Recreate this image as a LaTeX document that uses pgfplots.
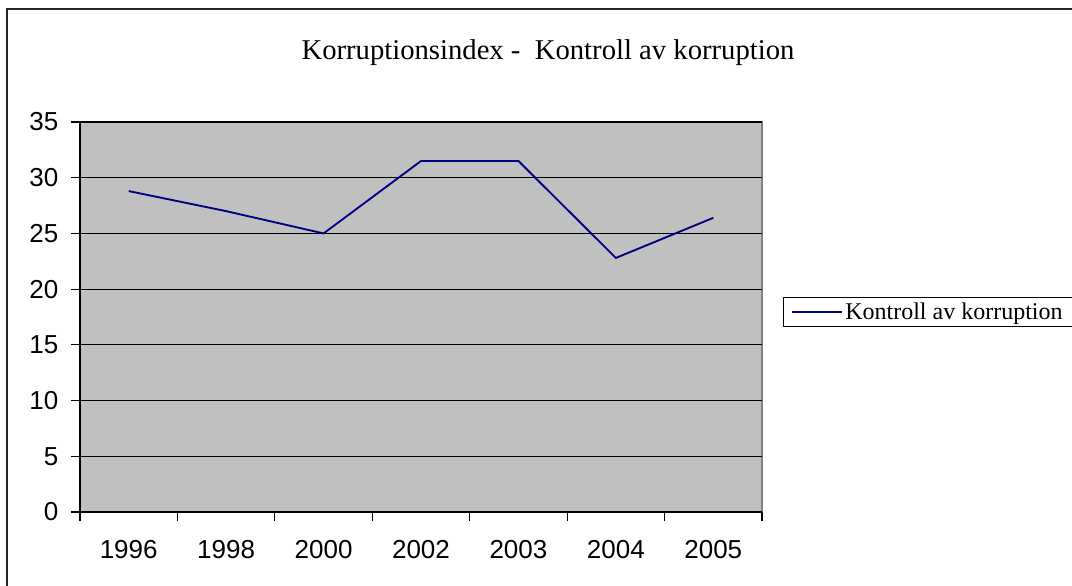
\documentclass[border=0pt]{standalone}
\usepackage{fontspec}
\setmainfont{Liberation Serif}
\newfontfamily\arial{Liberation Sans}
\usepackage{pgfplots}
\pgfplotsset{compat=1.18}
\definecolor{plotbg}{RGB}{192,192,192}
\definecolor{navyline}{RGB}{0,0,128}

\begin{document}
\begin{tikzpicture}
\useasboundingbox (0,0) rectangle (804pt,439.5pt);
\draw[line width=1.5pt, black!85] (5.25pt,0pt) -- (5.25pt,432.75pt) -- (804pt,432.75pt);
\node[font=\fontsize{21.5}{25}\selectfont] at (411pt,400pt) {Korruptionsindex -\ \ Kontroll av korruption};
\begin{axis}[
  at={(60pt,55.5pt)}, anchor=south west,
  scale only axis,
  width=511.5pt, height=292.5pt,
  xmin=-0.5, xmax=6.5, ymin=0, ymax=35,
  ytick={0,5,...,35},
  xtick={-0.5,0.5,...,6.5}, xticklabels={},
  extra x ticks={0,1,2,3,4,5,6},
  extra x tick labels={1996,1998,2000,2002,2003,2004,2005},
  extra x tick style={major tick length=0pt},
  axis lines=left, axis line style={-, black, line width=0.8pt},
  axis background/.style={fill=plotbg, draw=gray, line width=0.8pt},
  ymajorgrids, grid style={black, line width=0.8pt},
  tick align=outside, major tick length=6.5pt,
  tick style={black, line width=0.8pt},
  tick label style={font=\arial\fontsize{19.5}{23}\selectfont},
  /pgf/number format/assume math mode=true,
  yticklabel style={xshift=-6.25pt},
  xticklabel style={yshift=-18pt},
  legend style={at={(1.0308,0.5513)}, anchor=north west, draw=black, line width=0.6pt,
    font=\fontsize{18}{20}\selectfont, inner xsep=5.5pt, inner ysep=2pt},
  legend image code/.code={\draw[navyline, line width=1.4pt] (0pt,0pt) -- (37.5pt,0pt);},
]
\addplot[navyline, line width=1.4pt] coordinates {
  (0,28.8) (1,27.0) (2,25.0) (3,31.5) (4,31.5) (5,22.8) (6,26.4)
};
\addlegendentry{Kontroll av korruption}
\end{axis}
\end{tikzpicture}
\end{document}
